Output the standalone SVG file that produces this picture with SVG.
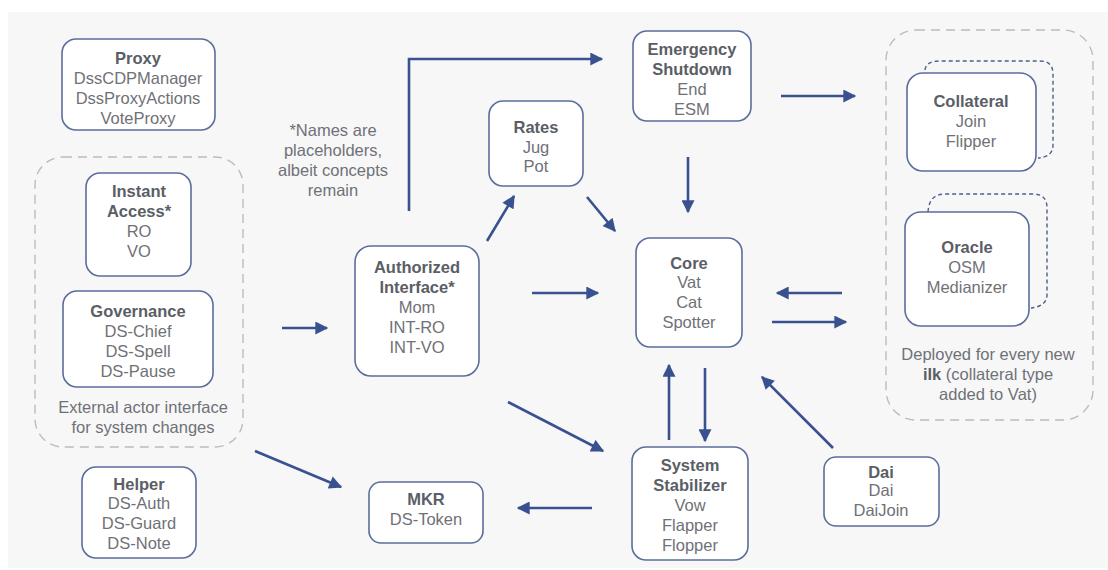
<svg xmlns="http://www.w3.org/2000/svg" width="1108" height="570" viewBox="0 0 1108 570">
<defs>
<style>
.node{fill:#fff;stroke:#5b6d9c;stroke-width:1.6}
.back{fill:none;stroke:#4f5f8e;stroke-width:1.4;stroke-dasharray:4 3}
.grp{fill:none;stroke:#bcbcbc;stroke-width:1.4;stroke-dasharray:9 6}
text{font-family:"Liberation Sans",Arial,sans-serif;font-size:16.5px;fill:#6f7177;text-anchor:middle}
.t{font-weight:bold;fill:#5b5e66}
.c line,.c polyline{stroke:#3a5190;stroke-width:2.6;fill:none}
</style>
<marker id="ah" viewBox="0 0 10 10" refX="9" refY="5" markerWidth="5.4" markerHeight="5" orient="auto" markerUnits="strokeWidth">
<path d="M0,0 L10,5 L0,10 z" fill="#3a5190"/>
</marker>
</defs>
<rect x="0" y="0" width="1108" height="570" fill="#fff"/>
<rect x="8" y="12" width="1100" height="556" fill="#f7f7f8"/>

<g id="group-external">
<rect class="grp" x="35" y="157" width="208" height="290" rx="28"/>
<text x="143" y="413">External actor interface</text>
<text x="143" y="433">for system changes</text>
</g>
<g id="group-ilk">
<rect class="grp" x="886" y="30" width="207" height="390" rx="30"/>
<text x="988" y="360">Deployed for every new</text>
<text x="988" y="380"><tspan class="t">ilk</tspan> (collateral type</text>
<text x="988" y="400">added to Vat)</text>
</g>

<g id="note">
<text x="333" y="136">*Names are</text>
<text x="333" y="156">placeholders,</text>
<text x="333" y="176">albeit concepts</text>
<text x="333" y="196">remain</text>
</g>

<g id="proxy">
<rect class="node" x="62" y="39" width="153" height="91" rx="14"/>
<text class="t" x="138" y="64">Proxy</text>
<text x="138" y="84">DssCDPManager</text>
<text x="138" y="104">DssProxyActions</text>
<text x="138" y="124">VoteProxy</text>
</g>
<g id="instant-access">
<rect class="node" x="86" y="173" width="105" height="103" rx="14"/>
<text class="t" x="139" y="197">Instant</text>
<text class="t" x="139" y="217">Access*</text>
<text x="139" y="237">RO</text>
<text x="139" y="257">VO</text>
</g>
<g id="governance">
<rect class="node" x="63" y="291" width="150" height="96" rx="14"/>
<text class="t" x="138" y="317">Governance</text>
<text x="138" y="337">DS-Chief</text>
<text x="138" y="357">DS-Spell</text>
<text x="138" y="377">DS-Pause</text>
</g>
<g id="helper">
<rect class="node" x="82" y="467" width="114" height="91" rx="14"/>
<text class="t" x="139" y="490">Helper</text>
<text x="139" y="509">DS-Auth</text>
<text x="139" y="529">DS-Guard</text>
<text x="139" y="549">DS-Note</text>
</g>
<g id="authorized-interface">
<rect class="node" x="355" y="246" width="124" height="130" rx="16"/>
<text class="t" x="417" y="273">Authorized</text>
<text class="t" x="417" y="293">Interface*</text>
<text x="417" y="313">Mom</text>
<text x="417" y="333">INT-RO</text>
<text x="417" y="353">INT-VO</text>
</g>
<g id="rates">
<rect class="node" x="489" y="101" width="94" height="85" rx="14"/>
<text class="t" x="536" y="133">Rates</text>
<text x="536" y="153">Jug</text>
<text x="536" y="172">Pot</text>
</g>
<g id="emergency-shutdown">
<rect class="node" x="633" y="31" width="118" height="90" rx="14"/>
<text class="t" x="692" y="55">Emergency</text>
<text class="t" x="692" y="75">Shutdown</text>
<text x="692" y="95">End</text>
<text x="692" y="115">ESM</text>
</g>
<g id="core">
<rect class="node" x="636" y="238" width="106" height="109" rx="14"/>
<text class="t" x="689" y="269">Core</text>
<text x="689" y="288">Vat</text>
<text x="689" y="308">Cat</text>
<text x="689" y="328">Spotter</text>
</g>
<g id="system-stabilizer">
<rect class="node" x="632" y="447" width="116" height="113" rx="14"/>
<text class="t" x="690" y="471">System</text>
<text class="t" x="690" y="491">Stabilizer</text>
<text x="690" y="511">Vow</text>
<text x="690" y="531">Flapper</text>
<text x="690" y="551">Flopper</text>
</g>
<g id="mkr">
<rect class="node" x="369" y="482" width="114" height="61" rx="12"/>
<text class="t" x="426" y="505">MKR</text>
<text x="426" y="525">DS-Token</text>
</g>
<g id="dai">
<rect class="node" x="824" y="457" width="115" height="69" rx="12"/>
<text class="t" x="881" y="478">Dai</text>
<text x="881" y="496">Dai</text>
<text x="881" y="516">DaiJoin</text>
</g>
<g id="collateral">
<path class="back" d="M925,70 Q926,61 940,61 L1040,61 Q1053,61 1053,74 L1053,145 Q1053,157 1038,158"/>
<rect class="node" x="907" y="73" width="129" height="98" rx="16"/>
<text class="t" x="971" y="107">Collateral</text>
<text x="971" y="127">Join</text>
<text x="971" y="147">Flipper</text>
</g>
<g id="oracle">
<path class="back" d="M928,212 Q929,194 945,194 L1033,194 Q1047,194 1047,208 L1047,295 Q1047,306 1031,308"/>
<rect class="node" x="905" y="212" width="124" height="114" rx="16"/>
<text class="t" x="967" y="253">Oracle</text>
<text x="967" y="273">OSM</text>
<text x="967" y="293">Medianizer</text>
</g>

<g id="connectors" class="c">
<line x1="282" y1="328" x2="327" y2="328" marker-end="url(#ah)"/>
<line x1="255" y1="451" x2="341" y2="487" marker-end="url(#ah)"/>
<polyline points="409,211 409,59 602,59" marker-end="url(#ah)"/>
<line x1="487" y1="241" x2="514" y2="196" marker-end="url(#ah)"/>
<line x1="587" y1="197" x2="615" y2="231" marker-end="url(#ah)"/>
<line x1="688" y1="157" x2="688" y2="212" marker-end="url(#ah)"/>
<line x1="532" y1="293" x2="598" y2="293" marker-end="url(#ah)"/>
<line x1="508" y1="402" x2="603" y2="451" marker-end="url(#ah)"/>
<line x1="669" y1="440" x2="669" y2="365" marker-end="url(#ah)"/>
<line x1="705" y1="368" x2="705" y2="441" marker-end="url(#ah)"/>
<line x1="592" y1="508" x2="518" y2="508" marker-end="url(#ah)"/>
<line x1="781" y1="96" x2="855" y2="96" marker-end="url(#ah)"/>
<line x1="842" y1="293" x2="777" y2="293" marker-end="url(#ah)"/>
<line x1="772" y1="322" x2="846" y2="322" marker-end="url(#ah)"/>
<line x1="833" y1="448" x2="762" y2="377" marker-end="url(#ah)"/>
</g>
</svg>
